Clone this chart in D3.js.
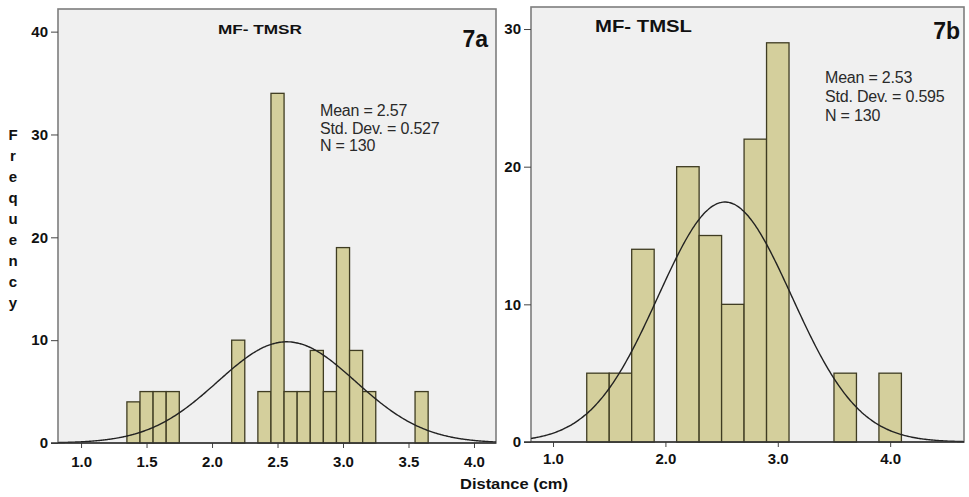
<!DOCTYPE html>
<html>
<head>
<meta charset="utf-8">
<script src="https://cdn.jsdelivr.net/npm/d3@7"></script>
<style>
  html, body { margin: 0; padding: 0; background: #fff; }
  svg { display: block; font-family: Arial, "Liberation Sans", sans-serif; }
</style>
</head>
<body>
<svg id="chart" width="969" height="497"></svg>
<script>
// MF- TMSR histogram (bins of 0.1 cm, given by their centres)
const tmsrBinCenters = [1.4, 1.5, 1.6, 1.7, 2.2, 2.4, 2.5, 2.6, 2.7, 2.8, 2.9, 3.0, 3.1, 3.2, 3.6];
const tmsrCounts     = [4, 5, 5, 5, 10, 5, 34, 5, 5, 9, 5, 19, 9, 5, 5];
const tmsrBinWidth = 0.1;
const tmsrStats = { mean: 2.57, sd: 0.527, n: 130 };
const tmsrXTicks = [1.0, 1.5, 2.0, 2.5, 3.0, 3.5, 4.0];
const tmsrYTicks = [0, 10, 20, 30, 40];

// MF- TMSL histogram (bins of 0.2 cm, given by their left edges)
const tmslBinStarts = [1.3, 1.5, 1.7, 2.1, 2.3, 2.5, 2.7, 2.9, 3.5, 3.9];
const tmslCounts    = [5, 5, 14, 20, 15, 10, 22, 29, 5, 5];
const tmslBinWidth = 0.2;
const tmslStats = { mean: 2.53, sd: 0.595, n: 130 };
const tmslXTicks = [1.0, 2.0, 3.0, 4.0];
const tmslYTicks = [0, 10, 20, 30];

const svg = d3.select("#chart");

const BAR_FILL = "#d4cf9c";
const BAR_STROKE = "#3f3c22";
const PLOT_BG = "#f0f0f0";
const FRAME = "#7d7d7d";
const INK = "#111";

function drawPanel(cfg) {
  const x = d3.scaleLinear().domain(cfg.xDomain).range([cfg.left, cfg.right]);
  const y = d3.scaleLinear().domain(cfg.yDomain).range([cfg.bottom, cfg.top]);
  const g = svg.append("g");

  // plot background and frame
  g.append("rect")
    .attr("x", cfg.left).attr("y", cfg.top)
    .attr("width", cfg.right - cfg.left).attr("height", cfg.bottom - cfg.top)
    .attr("fill", PLOT_BG).attr("stroke", FRAME).attr("stroke-width", 1.6);

  // bars
  g.append("g").selectAll("rect")
    .data(cfg.bins)
    .join("rect")
    .attr("x", d => x(d.x0))
    .attr("y", d => y(d.count))
    .attr("width", d => x(d.x1) - x(d.x0))
    .attr("height", d => y(0) - y(d.count))
    .attr("fill", BAR_FILL)
    .attr("stroke", BAR_STROKE)
    .attr("stroke-width", 1.3);

  // fitted normal curve, scaled to counts per bin
  const { mean, sd, n } = cfg.stats;
  const pdf = v => Math.exp(-0.5 * ((v - mean) / sd) ** 2) / (sd * Math.sqrt(2 * Math.PI));
  const xs = d3.range(0, 301).map(i => cfg.xDomain[0] + (cfg.xDomain[1] - cfg.xDomain[0]) * i / 300);
  g.append("path")
    .datum(xs)
    .attr("fill", "none")
    .attr("stroke", "#222")
    .attr("stroke-width", 1.4)
    .attr("d", d3.line().x(v => x(v)).y(v => y(n * cfg.binWidth * pdf(v))).curve(d3.curveBasis));

  // y axis
  const yAxis = g.append("g")
    .attr("transform", `translate(${cfg.left},0)`)
    .call(d3.axisLeft(y).tickValues(cfg.yTicks).tickSize(7).tickPadding(3).tickFormat(d3.format("d")));
  yAxis.select(".domain").remove();
  yAxis.selectAll(".tick line").attr("stroke", "#444").attr("stroke-width", 1);
  yAxis.selectAll(".tick text")
    .attr("fill", INK).attr("font-size", 15).attr("font-weight", "bold");

  // x axis
  const xAxis = g.append("g")
    .attr("transform", `translate(0,${cfg.bottom})`)
    .call(d3.axisBottom(x).tickValues(cfg.xTicks).tickSize(5).tickPadding(cfg.xPad).tickFormat(d3.format(".1f")));
  xAxis.select(".domain").remove();
  xAxis.selectAll(".tick line").attr("stroke", "#444");
  xAxis.selectAll(".tick text")
    .attr("fill", INK).attr("font-size", 15).attr("font-weight", "bold");

  // baseline
  g.append("line")
    .attr("x1", cfg.left - 7).attr("x2", cfg.right)
    .attr("y1", y(0)).attr("y2", y(0))
    .attr("stroke", "#333").attr("stroke-width", 1.6);

  // title
  g.append("text")
    .attr("x", cfg.title.x).attr("y", cfg.title.y)
    .attr("font-size", cfg.title.size).attr("font-weight", "bold").attr("fill", INK)
    .attr("textLength", cfg.title.len).attr("lengthAdjust", "spacingAndGlyphs")
    .text(cfg.title.text);

  // panel tag
  g.append("text")
    .attr("x", cfg.tag.x).attr("y", cfg.tag.y)
    .attr("text-anchor", "end")
    .attr("font-size", 23).attr("font-weight", "bold").attr("fill", INK)
    .text(cfg.tag.text);

  // summary statistics
  const lines = [
    `Mean = ${mean.toFixed(2)}`,
    `Std. Dev. = ${sd.toFixed(3)}`,
    `N = ${n}`
  ];
  g.append("g").selectAll("text")
    .data(lines)
    .join("text")
    .attr("x", cfg.statsPos.x)
    .attr("y", (d, i) => cfg.statsPos.y + i * cfg.statsPos.dy)
    .attr("font-size", 16).attr("fill", "#2a2a2a")
    .attr("letter-spacing", -0.2)
    .text(d => d);
}

drawPanel({
  left: 58, right: 496, top: 9, bottom: 443,
  xDomain: [0.824, 4.168], yDomain: [0, 42.2],
  bins: tmsrBinCenters.map((c, i) => ({ x0: c - tmsrBinWidth / 2, x1: c + tmsrBinWidth / 2, count: tmsrCounts[i] })),
  binWidth: tmsrBinWidth, stats: tmsrStats,
  xTicks: tmsrXTicks, yTicks: tmsrYTicks, xPad: 8,
  title: { text: "MF- TMSR", x: 218, y: 34, size: 13, len: 84 },
  tag: { text: "7a", x: 488, y: 47 },
  statsPos: { x: 320, y: 116, dy: 17.5 }
});

drawPanel({
  left: 531, right: 964, top: 7, bottom: 442,
  xDomain: [0.804, 4.657], yDomain: [0, 31.6],
  bins: tmslBinStarts.map((s, i) => ({ x0: s, x1: s + tmslBinWidth, count: tmslCounts[i] })),
  binWidth: tmslBinWidth, stats: tmslStats,
  xTicks: tmslXTicks, yTicks: tmslYTicks, xPad: 6,
  title: { text: "MF- TMSL", x: 595, y: 32, size: 17, len: 97 },
  tag: { text: "7b", x: 960, y: 39 },
  statsPos: { x: 825, y: 83, dy: 19 }
});

// shared axis titles
svg.append("text")
  .attr("x", 460).attr("y", 489)
  .attr("font-size", 15).attr("font-weight", "bold").attr("fill", INK)
  .attr("textLength", 108).attr("lengthAdjust", "spacingAndGlyphs")
  .text("Distance (cm)");

svg.append("g").selectAll("text")
  .data("Frequency".split(""))
  .join("text")
  .attr("x", 13)
  .attr("y", (d, i) => 140 + i * 21)
  .attr("text-anchor", "middle")
  .attr("font-size", 15).attr("font-weight", "bold").attr("fill", INK)
  .text(d => d);
</script>
</body>
</html>
